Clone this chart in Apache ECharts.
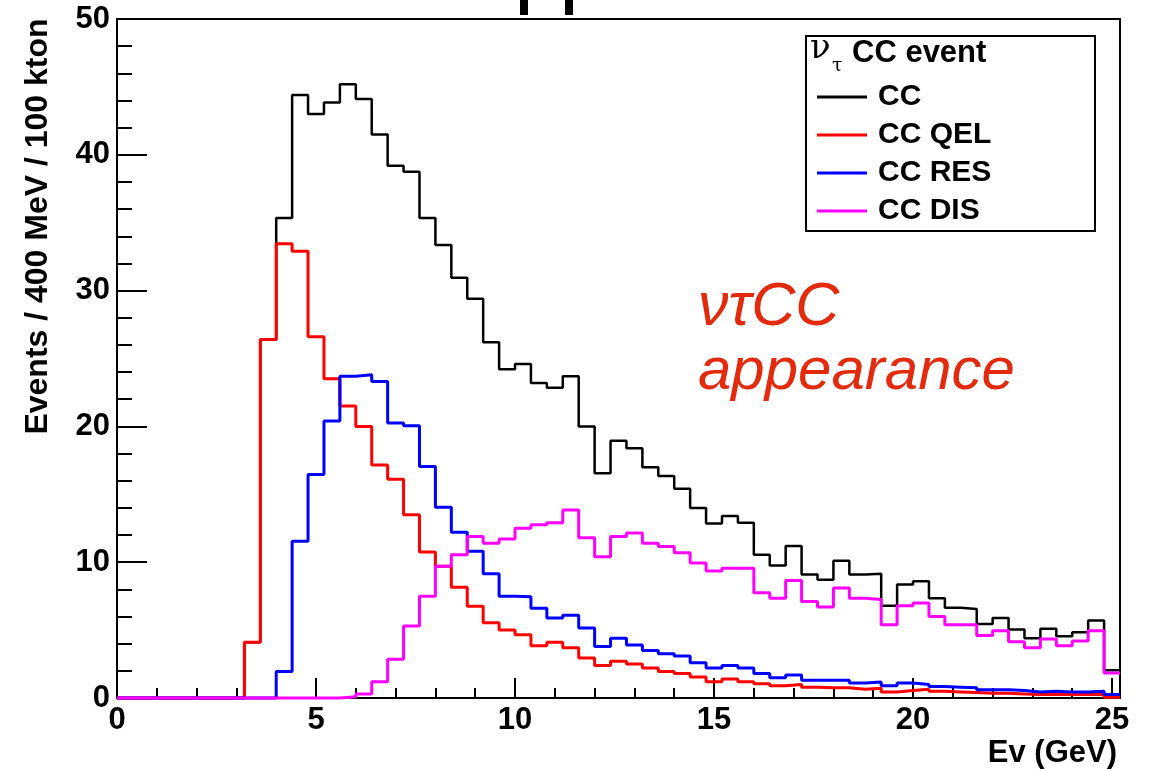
<!DOCTYPE html>
<html>
<head>
<meta charset="utf-8">
<script src="https://cdn.jsdelivr.net/npm/echarts@6/dist/echarts.min.js"></script>
<style>
  html, body { margin: 0; padding: 0; background: #ffffff; }
  #chart { width: 1152px; height: 769px; }
</style>
</head>
<body>
<div id="chart"></div>
<script>
// nu_tau CC event spectrum per 400 MeV bin (events / 100 kton), bins start at 0 GeV
const binWidthGeV = 0.4;

const ccAll = [
  0, 0, 0, 0, 0, 0, 0, 0, 4.1, 26.4,
  35.35, 44.4, 43.0, 43.85, 45.2, 44.1, 41.5, 39.2, 38.75, 35.35,
  33.35, 30.95, 29.4, 26.2, 24.2, 24.6, 23.2, 22.85, 23.7, 20.0,
  16.55, 18.95, 18.4, 17.0, 16.35, 15.4, 14.0, 12.85, 13.4, 12.9,
  10.55, 9.75, 11.2, 9.1, 8.7, 10.1, 9.1, 9.15, 6.8, 8.35,
  8.6, 7.35, 6.65, 6.55, 5.45, 5.9, 5.05, 4.4, 5.1, 4.55,
  4.85, 5.7, 2.05
];

const ccQel = [
  0, 0, 0, 0, 0, 0, 0, 0, 4.1, 26.4,
  33.45, 32.9, 26.6, 23.5, 21.5, 20.0, 17.15, 16.1, 13.5, 10.75,
  9.7, 8.15, 6.75, 5.55, 5.0, 4.65, 3.85, 4.1, 3.7, 2.95,
  2.4, 2.7, 2.5, 2.2, 1.95, 1.8, 1.55, 1.2, 1.4, 1.2,
  1.05, 0.9, 1.0, 0.8, 0.75, 0.75, 0.65, 0.72, 0.45, 0.55,
  0.65, 0.5, 0.45, 0.4, 0.35, 0.35, 0.3, 0.25, 0.25, 0.25,
  0.25, 0.25, 0.05
];

const ccRes = [
  0, 0, 0, 0, 0, 0, 0, 0, 0, 0,
  1.95, 11.55, 16.45, 20.4, 23.7, 23.8, 23.3, 20.25, 20.05, 17.05,
  14.05, 12.2, 10.8, 9.15, 7.5, 7.45, 6.6, 5.9, 6.1, 5.15,
  3.8, 4.4, 3.9, 3.5, 3.25, 3.1, 2.6, 2.2, 2.4, 2.2,
  1.8, 1.5, 1.7, 1.3, 1.3, 1.3, 1.1, 1.18, 0.9, 1.1,
  1.0, 0.85, 0.8, 0.75, 0.6, 0.6, 0.55, 0.45, 0.5, 0.45,
  0.45, 0.5, 0.25
];

const ccDis = [
  0, 0, 0, 0, 0, 0, 0, 0, 0, 0,
  0, 0, 0, 0, 0.1, 0.3, 1.2, 2.85, 5.3, 7.5,
  9.7, 10.55, 11.9, 11.4, 11.7, 12.5, 12.75, 12.9, 13.85, 11.8,
  10.4, 11.9, 12.15, 11.4, 11.15, 10.7, 9.95, 9.35, 9.55, 9.55,
  7.75, 7.35, 8.65, 7.1, 6.7, 8.1, 7.35, 7.25, 5.4, 6.8,
  7.0, 6.0, 5.4, 5.4, 4.6, 4.95, 4.15, 3.7, 4.35, 3.85,
  4.2, 4.95, 1.85
];

const seriesNames = ['CC', 'CC QEL', 'CC RES', 'CC DIS'];
const xTickLabels = [0, 5, 10, 15, 20, 25];
const yTickLabels = [0, 10, 20, 30, 40, 50];

const SANS = '"Liberation Sans", Arial, Helvetica, sans-serif';
const SERIF = '"DejaVu Serif", "Liberation Serif", serif';

// Turn bin contents into step points: each bin's value starts at its low edge,
// and a closing point carries the last bin to the upper edge.
function histPoints(values) {
  const pts = values.map((v, i) => [+(i * binWidthGeV).toFixed(3), v]);
  pts.push([+(values.length * binWidthGeV).toFixed(3), values[values.length - 1]]);
  return pts;
}
const xMax = +(ccAll.length * binWidthGeV).toFixed(3);

function histSeries(name, values, color, width, z) {
  return {
    name: name,
    type: 'line',
    step: 'end',
    data: histPoints(values),
    symbol: 'none',
    clip: false,
    z: z,
    itemStyle: { color: color },
    lineStyle: { color: color, width: width },
    emphasis: { disabled: true }
  };
}

// A tick-only axis (no line, no labels) laid over the main one
function tickAxis(kind, max, interval, length) {
  return {
    type: 'value', min: 0, max: max, interval: interval,
    position: kind === 'x' ? 'bottom' : 'left',
    axisLine: { show: false },
    axisTick: { show: true, inside: true, length: length, lineStyle: { color: '#000', width: 2 } },
    axisLabel: { show: false },
    splitLine: { show: false }
  };
}

const labelStyle = { show: true, margin: 7, color: '#000', fontSize: 31, fontWeight: 'bold', fontFamily: SANS };

const chart = echarts.init(document.getElementById('chart'), null, { renderer: 'canvas' });

chart.setOption({
  animation: false,
  backgroundColor: '#ffffff',
  grid: {
    left: 117, right: 32, top: 19, bottom: 71,
    show: true, borderColor: '#000000', borderWidth: 2, backgroundColor: 'transparent'
  },
  xAxis: [
    {
      type: 'value', min: 0, max: xMax, interval: 1, position: 'bottom',
      axisLine: { show: true, onZero: false, lineStyle: { color: '#000', width: 2 } },
      axisTick: { show: true, inside: true, length: 10, lineStyle: { color: '#000', width: 2 } },
      axisLabel: Object.assign({}, labelStyle, {
        formatter: v => (xTickLabels.indexOf(v) >= 0 ? String(v) : '')
      }),
      splitLine: { show: false }
    },
    tickAxis('x', xMax, 5, 20)
  ],
  yAxis: [
    {
      type: 'value', min: 0, max: 50, interval: 2, position: 'left',
      axisLine: { show: true, onZero: false, lineStyle: { color: '#000', width: 2 } },
      axisTick: { show: true, inside: true, length: 15, lineStyle: { color: '#000', width: 2 } },
      axisLabel: Object.assign({}, labelStyle, {
        formatter: v => (yTickLabels.indexOf(v) >= 0 ? String(v) : '')
      }),
      splitLine: { show: false }
    },
    tickAxis('y', 50, 10, 30)
  ],
  legend: {
    show: true,
    orient: 'vertical',
    left: 817, top: 78, padding: 0,
    itemWidth: 50, itemHeight: 3, itemGap: 0,
    icon: 'rect',
    selectedMode: false,
    data: seriesNames,
    textStyle: {
      color: '#000', fontSize: 30, fontWeight: 'bold', fontFamily: SANS,
      lineHeight: 38, padding: [0, 0, 0, 6]
    }
  },
  series: [
    histSeries(seriesNames[0], ccAll, '#000000', 2.5, 2),
    histSeries(seriesNames[1], ccQel, '#ff0000', 3, 3),
    histSeries(seriesNames[2], ccRes, '#0000ff', 3, 4),
    histSeries(seriesNames[3], ccDis, '#ff00ff', 3, 5)
  ],
  graphic: [
    // legend frame and header
    { type: 'rect', z: 0, shape: { x: 806, y: 36, width: 289, height: 195 },
      style: { fill: '#ffffff', stroke: '#000000', lineWidth: 2 } },
    { type: 'text', z: 10, x: 810, y: 66, style: { text: 'ν', font: '34px ' + SERIF, fill: '#000', textVerticalAlign: 'bottom' } },
    { type: 'text', z: 10, x: 832, y: 76, style: { text: 'τ', font: '19px ' + SERIF, fill: '#000', textVerticalAlign: 'bottom' } },
    { type: 'text', z: 10, x: 852, y: 53, style: { text: 'CC event', font: 'bold 31px ' + SANS, fill: '#000', textVerticalAlign: 'middle' } },
    // axis titles
    { type: 'text', z: 10, x: 38.6, y: 226.5, rotation: Math.PI / 2,
      style: { text: 'Events / 400 MeV / 100 kton', font: 'bold 32px ' + SANS, fill: '#000', textAlign: 'center', textVerticalAlign: 'middle' } },
    { type: 'text', z: 10, x: 1117, y: 753,
      style: { text: 'Ev (GeV)', font: 'bold 31px ' + SANS, fill: '#000', textAlign: 'right', textVerticalAlign: 'middle' } },
    // annotation
    { type: 'text', z: 10, x: 698, y: 308,
      style: { text: 'ντCC', font: 'italic 61px ' + SANS, fill: '#e32a0c', textAlign: 'left', textVerticalAlign: 'middle' } },
    { type: 'text', z: 10, x: 698, y: 372,
      style: { text: 'appearance', font: 'italic 60px ' + SANS, fill: '#e32a0c', textAlign: 'left', textVerticalAlign: 'middle' } },
    // clipped heading strokes above the frame
    { type: 'rect', z: 10, shape: { x: 520, y: 0, width: 8, height: 15 }, style: { fill: '#000' } },
    { type: 'rect', z: 10, shape: { x: 565, y: 0, width: 8, height: 15 }, style: { fill: '#000' } }
  ]
});
</script>
</body>
</html>
